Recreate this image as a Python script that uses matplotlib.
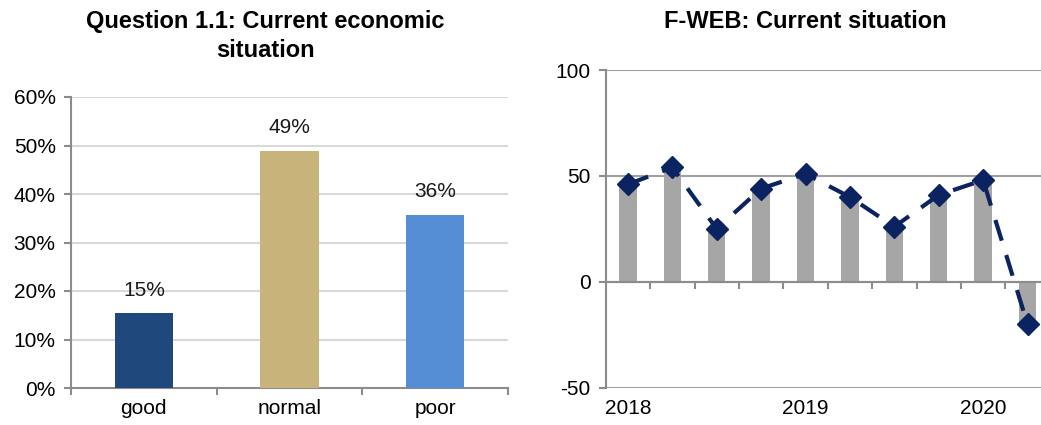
import matplotlib.pyplot as plt
import numpy as np

plt.rcParams['font.family'] = ['Liberation Sans', 'DejaVu Sans']
plt.rcParams['axes.unicode_minus'] = False

# left chart data
answers = ['good', 'normal', 'poor']
shares = [0.154, 0.489, 0.357]
share_labels = ['15%', '49%', '36%']
bar_colors = ['#1f497d', '#c8b47a', '#558ed5']

# right chart data (quarterly, 2018 Q1 .. 2020 Q2)
fweb_values = [46, 54, 25, 44, 51, 40, 26, 41, 48, -20]
year_labels = ['2018', '2019', '2020']
year_positions = [0, 4, 8]

axis_gray = '#8c8c8c'
navy = '#0b2360'

fig = plt.figure(figsize=(10.41, 4.25), dpi=100)

# ---- left: Question 1.1 ----
ax1 = fig.add_axes([71 / 1041, 37 / 425, 437 / 1041, 291 / 425])
x1 = np.arange(len(answers))
ax1.bar(x1, shares, width=0.4, color=bar_colors, zorder=3)
for xi, v, lab in zip(x1, shares, share_labels):
    ax1.annotate(lab, (xi, v), xytext=(0, 16.5), textcoords='offset points',
                 ha='center', va='center', fontsize=15, color='#1a1a1a')
ax1.set_xlim(-0.5, len(answers) - 0.5)
ax1.set_ylim(0, 0.6)
ax1.set_yticks(np.arange(0, 0.61, 0.1))
ax1.set_yticklabels([f'{int(round(t * 100))}%' for t in np.arange(0, 0.61, 0.1)])
ax1.grid(axis='y', color='#d9d9d9', linewidth=1.5, zorder=0)
ax1.set_xticks(x1)
ax1.set_xticklabels(answers)
ax1.set_xticks(np.arange(-0.5, len(answers)), minor=True)
ax1.tick_params(axis='x', which='major', length=0, pad=8, labelsize=15)
ax1.tick_params(axis='x', which='minor', length=5, color=axis_gray, width=1.5)
ax1.tick_params(axis='y', length=5, color=axis_gray, width=1.5, labelsize=15, pad=6)
for s in ['top', 'right']:
    ax1.spines[s].set_visible(False)
for s in ['left', 'bottom']:
    ax1.spines[s].set_color(axis_gray)
    ax1.spines[s].set_linewidth(1.5)
fig.text(265 / 1041, 1 - 36 / 425, 'Question 1.1: Current economic\nsituation',
         ha='center', va='center', fontsize=17, fontweight='bold', linespacing=1.35)

# ---- right: F-WEB ----
ax2 = fig.add_axes([605.7 / 1041, 37.3 / 425, 444 / 1041, 317.7 / 425])
x2 = np.arange(len(fweb_values))
ax2.bar(x2, fweb_values, width=0.39, color='#a6a6a6', zorder=2)
ax2.plot(x2, fweb_values, color=navy, linewidth=3, dashes=(5.2, 3.6),
         marker='D', markersize=11, zorder=4)
ax2.set_xlim(-0.5, len(fweb_values) - 0.5)
ax2.set_ylim(-50, 100)
ax2.set_yticks([-50, 0, 50, 100])
ax2.grid(axis='y', color='#a0a0a0', linewidth=1.5, zorder=0)
ax2.spines['bottom'].set_position(('data', 0))
ax2.spines['bottom'].set_color(axis_gray)
ax2.spines['bottom'].set_linewidth(1.5)
ax2.set_xticks(np.arange(0.5, len(fweb_values) - 1))
ax2.set_xticklabels([])
ax2.tick_params(axis='x', length=5, color=axis_gray, width=1.5)
ax2.tick_params(axis='y', length=5, color=axis_gray, width=1.5, labelsize=15, pad=6)
ax2.spines['left'].set_color(axis_gray)
ax2.spines['left'].set_linewidth(1.5)
for s in ['top', 'right']:
    ax2.spines[s].set_visible(False)
secax = ax2.secondary_xaxis(0)
secax.set_xticks(year_positions)
secax.set_xticklabels(year_labels)
secax.tick_params(length=0, pad=8, labelsize=15)
secax.spines['bottom'].set_visible(False)
fig.text(805 / 1041, 1 - 22 / 425, 'F-WEB: Current situation',
         ha='center', va='center', fontsize=17, fontweight='bold')

fig.savefig('out.png', dpi=100)
